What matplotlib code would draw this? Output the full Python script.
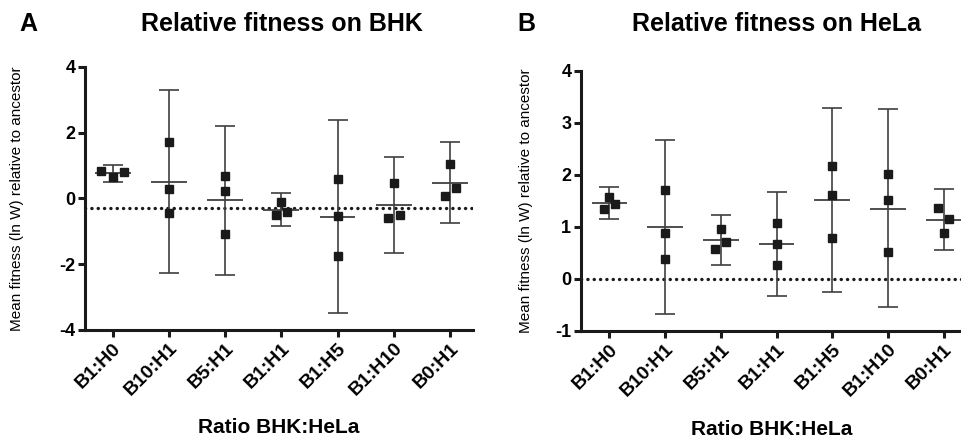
import matplotlib.pyplot as plt
import numpy as np

plt.rcParams['font.family'] = ['Liberation Sans', 'DejaVu Sans']

categories = ['B1:H0', 'B10:H1', 'B5:H1', 'B1:H1', 'B1:H5', 'B1:H10', 'B0:H1']

# Panel A - relative fitness on BHK
bhk_points = [
    [0.83, 0.66, 0.81],
    [1.72, 0.27, -0.46],
    [0.69, 0.23, -1.08],
    [-0.51, -0.10, -0.41],
    [0.59, -0.55, -1.74],
    [-0.60, 0.47, -0.51],
    [0.08, 1.04, 0.31],
]
bhk_offsets = [
    [-0.21, 0.0, 0.20],
    [0.0, 0.0, 0.0],
    [0.0, 0.0, 0.0],
    [-0.09, 0.0, 0.10],
    [0.0, 0.0, 0.0],
    [-0.11, 0.0, 0.11],
    [-0.09, 0.0, 0.10],
]
bhk_mean = [0.77, 0.51, -0.06, -0.34, -0.57, -0.19, 0.48]
bhk_low = [0.51, -2.28, -2.33, -0.84, -3.48, -1.66, -0.75]
bhk_high = [1.02, 3.28, 2.20, 0.16, 2.38, 1.27, 1.70]
bhk_ref = -0.30

# Panel B - relative fitness on HeLa
hela_points = [
    [1.35, 1.58, 1.45],
    [1.71, 0.89, 0.38],
    [0.58, 0.96, 0.71],
    [1.08, 0.68, 0.26],
    [2.17, 1.62, 0.78],
    [2.02, 1.52, 0.52],
    [1.37, 0.88, 1.15],
]
hela_offsets = [
    [-0.10, 0.0, 0.10],
    [0.0, 0.0, 0.0],
    [-0.11, 0.0, 0.10],
    [0.0, 0.0, 0.0],
    [0.0, 0.0, 0.0],
    [0.0, 0.0, 0.0],
    [-0.10, 0.0, 0.10],
]
hela_mean = [1.46, 1.00, 0.75, 0.67, 1.52, 1.35, 1.14]
hela_low = [1.15, -0.67, 0.26, -0.33, -0.25, -0.54, 0.55]
hela_high = [1.76, 2.68, 1.23, 1.68, 3.29, 3.26, 1.73]
hela_ref = 0.0

fig = plt.figure(figsize=(9.62, 4.38), dpi=100)
axA = fig.add_axes([0.0884, 0.2466, 0.4033, 0.6011])
axB = fig.add_axes([0.604, 0.2443, 0.396, 0.5937])


def draw(ax, points, offsets, mean, low, high, ref, ylim, yticks, xlim):
    x = np.arange(len(categories))
    mean = np.array(mean)
    err = [mean - np.array(low), np.array(high) - mean]
    ax.errorbar(x, mean, yerr=err, fmt='none', ecolor='#404040',
                elinewidth=1.2, capsize=7, capthick=1.2, zorder=2)
    ax.hlines(mean, x - 0.32, x + 0.32, color='#404040', lw=1.3, zorder=2)
    for i in range(len(categories)):
        ax.plot(x[i] + np.array(offsets[i]), points[i], 's', color='#1a1a1a',
                ms=5.5, ls='none', zorder=3)
    ax.axhline(ref, color='#1a1a1a', lw=2.4, ls=(0, (0.05, 1.85)),
               dash_capstyle='round', zorder=1)
    ax.set_xlim(*xlim)
    ax.set_ylim(*ylim)
    ax.set_yticks(yticks)
    ax.set_yticklabels([str(t) for t in yticks], fontsize=13, fontweight='bold')
    ax.set_xticks(x)
    ax.set_xticklabels(categories, rotation=45, ha='right',
                       rotation_mode='anchor', fontsize=14, fontweight='bold')
    for s in ['top', 'right']:
        ax.spines[s].set_visible(False)
    for s in ['left', 'bottom']:
        ax.spines[s].set_linewidth(2.2)
        ax.spines[s].set_color('#1a1a1a')
    ax.tick_params(axis='both', direction='out', length=5, width=2.2,
                   color='#1a1a1a', pad=2)
    ax.set_ylabel('Mean fitness (ln W) relative to ancestor', fontsize=11)
    ax.set_xlabel('Ratio BHK:HeLa', fontsize=15, fontweight='bold')
    ax.set_clip_on(False)


draw(axA, bhk_points, bhk_offsets, bhk_mean, bhk_low, bhk_high, bhk_ref,
     (-4, 4), [-4, -2, 0, 2, 4], (-0.49, 6.41))
draw(axB, hela_points, hela_offsets, hela_mean, hela_low, hela_high, hela_ref,
     (-1, 4), [-1, 0, 1, 2, 3, 4], (-0.51, 6.33))

axA.yaxis.set_label_coords(-0.157, 0.5)
axB.yaxis.set_label_coords(-0.126, 0.5)
axA.xaxis.set_label_coords(0.5, -0.335)
axB.xaxis.set_label_coords(0.5, -0.343)

fig.text(0.293, 0.945, 'Relative fitness on BHK', ha='center', va='center',
         fontsize=18, fontweight='bold')
fig.text(0.807, 0.945, 'Relative fitness on HeLa', ha='center', va='center',
         fontsize=18, fontweight='bold')
fig.text(0.029, 0.945, 'A', ha='center', va='center', fontsize=18, fontweight='bold')
fig.text(0.547, 0.945, 'B', ha='center', va='center', fontsize=18, fontweight='bold')

plt.savefig('out.png', dpi=100)
